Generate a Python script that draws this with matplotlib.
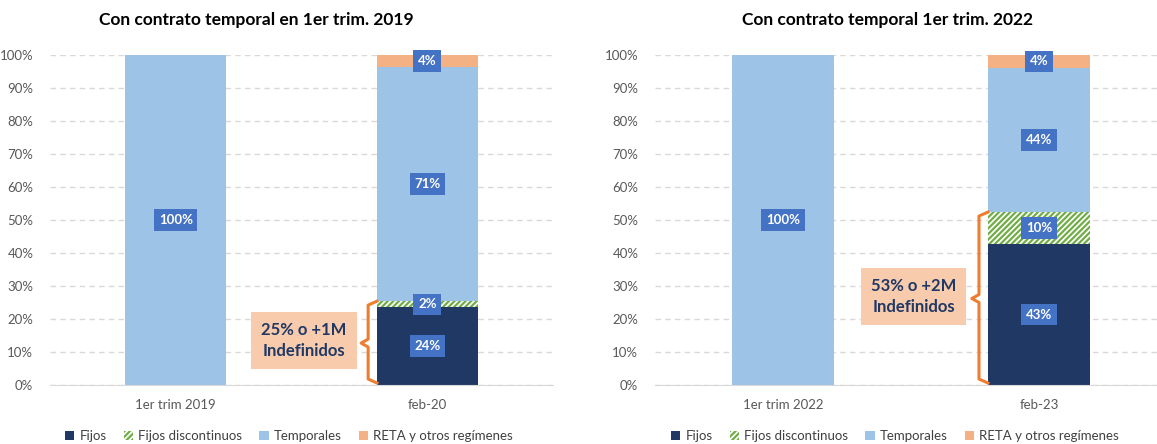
import matplotlib.pyplot as plt
from matplotlib.patches import Patch

plt.rcParams['font.family'] = ['Lato', 'DejaVu Sans']
plt.rcParams['hatch.linewidth'] = 1.6

W, H = 1157, 444

series = ['Fijos', 'Fijos discontinuos', 'Temporales', 'RETA y otros regímenes']
colors = ['#1F3864', 'white', '#9DC3E6', '#F4B183']
hatches = [None, '//////', None, None]
edges = ['#1F3864', '#70AD47', '#9DC3E6', '#F4B183']

titles = ['Con contrato temporal en 1er trim. 2019', 'Con contrato temporal 1er trim. 2022']
cats_1 = ['1er trim 2019', 'feb-20']
cats_2 = ['1er trim 2022', 'feb-23']
fijos_1 = [0, 23.6]
disc_1 = [0, 1.8]
temp_1 = [100, 71.0]
reta_1 = [0, 3.6]
fijos_2 = [0, 42.7]
disc_2 = [0, 9.7]
temp_2 = [100, 43.7]
reta_2 = [0, 3.9]
notes = ['25% o +1M\nIndefinidos', '53% o +2M\nIndefinidos']

panels = [
    (cats_1, [fijos_1, disc_1, temp_1, reta_1], titles[0], notes[0]),
    (cats_2, [fijos_2, disc_2, temp_2, reta_2], titles[1], notes[1]),
]

fig = plt.figure(figsize=(W / 100, H / 100), dpi=100)

axes_px = [(50, 553, 1.5), (655, 1157, 1.46)]
title_x = [256, 887]
legend_x = [289, 895]
note_y = [13.6, 26.7]

for (cats, vals, title, note), (x0, x1, xmax), tx, lx, ny in zip(panels, axes_px, title_x, legend_x, note_y):
    ax = fig.add_axes([x0 / W, 59 / H, (x1 - x0) / W, 330 / H])
    xs = range(len(cats))
    bottom = [0] * len(cats)
    for s, v, c, h, e in zip(series, vals, colors, hatches, edges):
        ax.bar(xs, v, bottom=bottom, width=0.4, color=c, hatch=h, edgecolor=e,
               linewidth=0, zorder=2)
        for i in xs:
            if v[i] > 0:
                ax.text(i, bottom[i] + v[i] / 2, f'{round(v[i])}%', ha='center', va='center',
                        color='white', fontsize=9.5, fontweight='bold', zorder=4,
                        bbox=dict(boxstyle='square,pad=0.35', fc='#4472C4', ec='none'))
        bottom = [b + x for b, x in zip(bottom, v)]

    ax.set_xlim(-0.5, xmax)
    ax.set_ylim(0, 100)
    ax.set_yticks(range(0, 101, 10))
    ax.set_yticklabels([f'{t}%' for t in range(0, 101, 10)])
    ax.set_xticks(list(xs))
    ax.set_xticklabels(cats)
    ax.tick_params(length=0, colors='#595959', labelsize=9.5)
    ax.tick_params(axis='x', pad=10)
    ax.tick_params(axis='y', pad=12)
    for sp in ['top', 'right', 'left']:
        ax.spines[sp].set_visible(False)
    ax.spines['bottom'].set_color('#D9D9D9')
    ax.yaxis.grid(True, linestyle=(0, (4, 3)), color='#D9D9D9', linewidth=1, zorder=0)
    ax.set_axisbelow(True)

    # bracket for indefinidos (fijos + discontinuos)
    top = vals[0][1] + vals[1][1]
    bx = 1 - 0.235
    hk = 0.035
    mid = top / 2
    r = 1.2
    ax.plot([bx + hk, bx, bx, bx - hk * 0.8, bx, bx, bx + hk],
            [top, top - r, mid + r, mid, mid - r, 0.6 + r, 0.6],
            color='#ED7D31', lw=2.2, solid_joinstyle='round', zorder=3, clip_on=False)
    ax.text(0.51, ny, note, ha='center', va='center',
            fontsize=12, fontweight='bold', color='#203864', linespacing=1.4,
            bbox=dict(boxstyle='square,pad=0.6', fc='#F8CBAD', ec='none'), zorder=4)

    fig.text(tx / W, 1 - 20 / H, title, ha='center', va='center',
             fontsize=12.5, fontweight='bold', color='black')

    handles = [Patch(facecolor=c, edgecolor=e, hatch=h, linewidth=0, label=s)
               for s, c, h, e in zip(series, colors, hatches, edges)]
    leg = fig.legend(handles=handles, loc='center', bbox_to_anchor=(lx / W, 1 - 436 / H),
                     ncol=4, frameon=False, fontsize=9.5, handlelength=0.7,
                     handleheight=0.7, handletextpad=0.4, columnspacing=1.3)
    for t in leg.get_texts():
        t.set_color('#404040')

fig.savefig('out.png', dpi=100)
